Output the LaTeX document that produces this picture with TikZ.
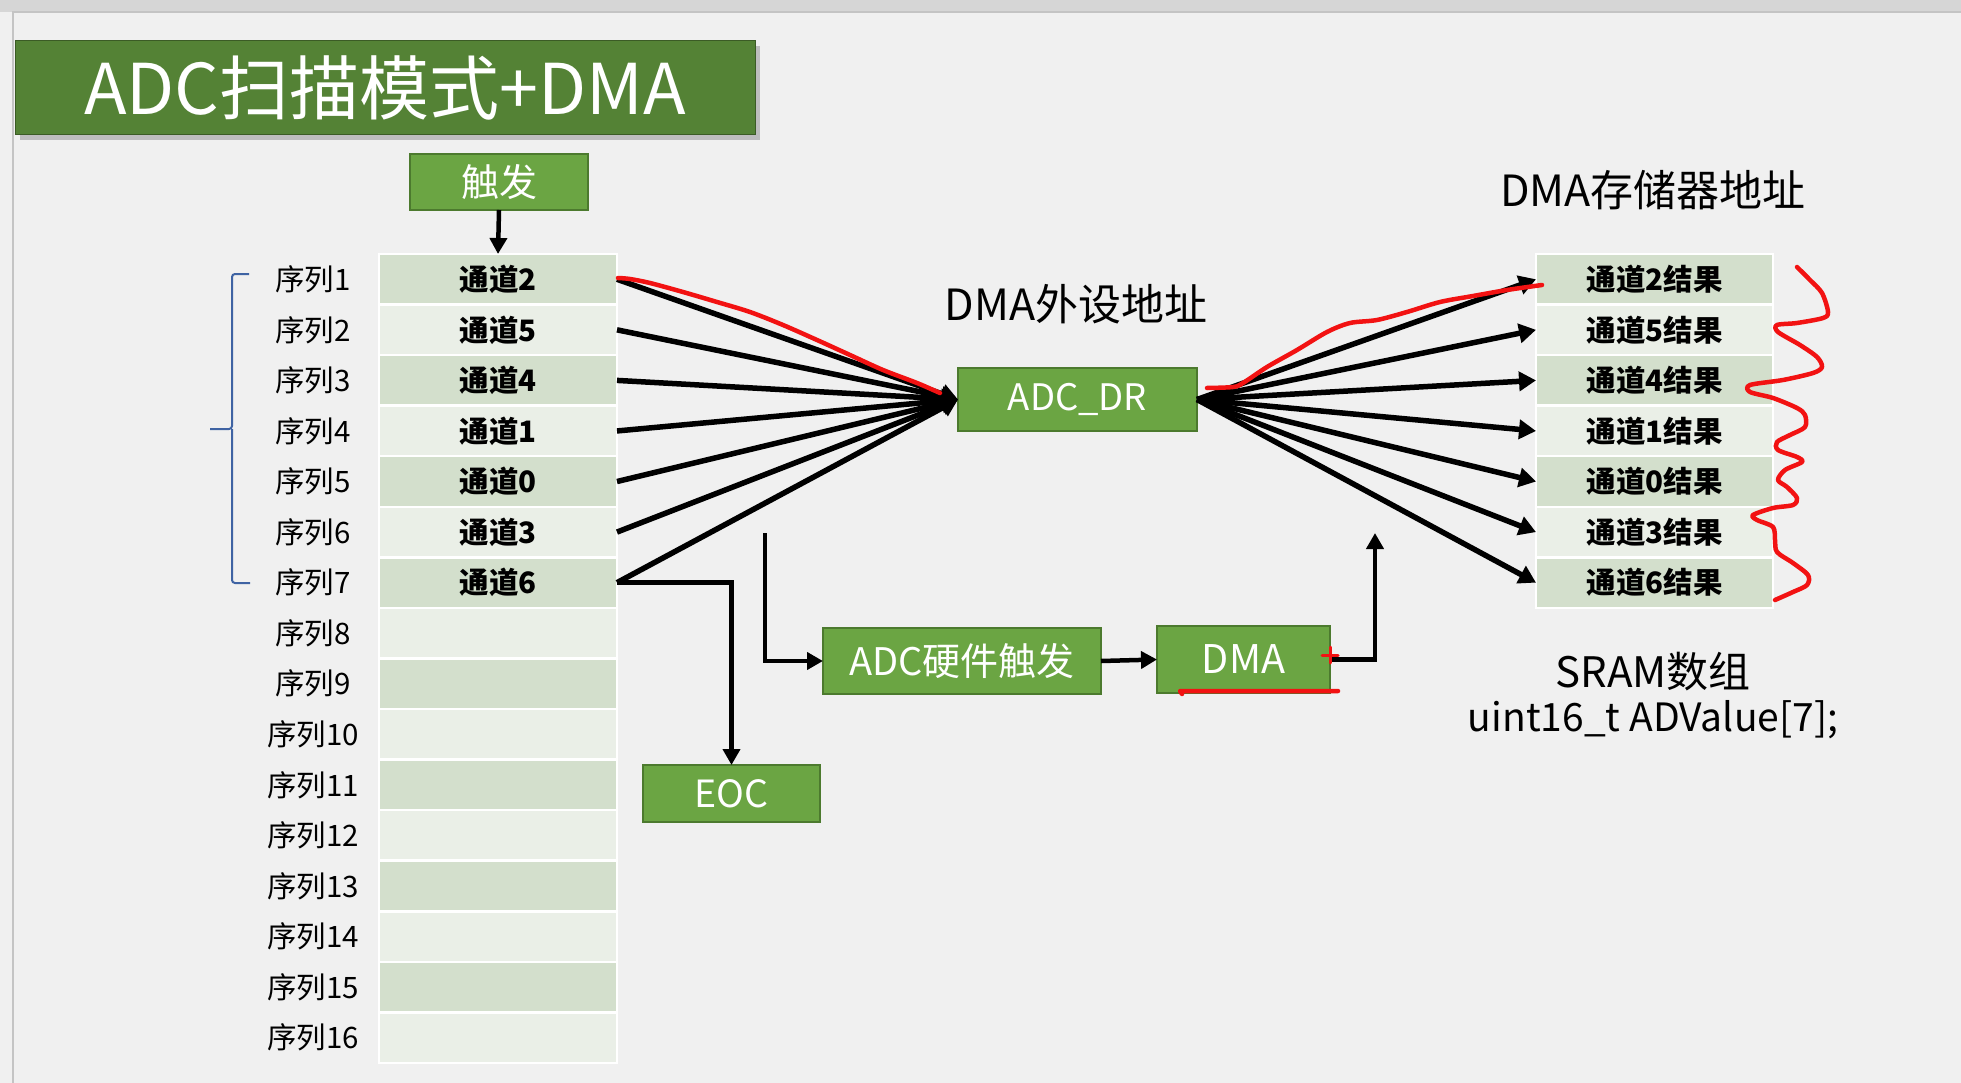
\documentclass[tikz,border=0pt]{standalone}
\usepackage{fontspec}
\setmainfont{Noto Sans CJK SC}
\usetikzlibrary{arrows.meta,shadows}

\definecolor{pagebg}{HTML}{F0F0F0}
\definecolor{topbar}{HTML}{D6D6D6}
\definecolor{edgegray}{HTML}{C4C4C4}
\definecolor{titlegreen}{HTML}{548235}
\definecolor{boxgreen}{HTML}{6BA543}
\definecolor{boxedge}{HTML}{4C7A2E}
\definecolor{rowdark}{HTML}{D3DFCC}
\definecolor{rowlight}{HTML}{EAEFE7}
\definecolor{bracecol}{HTML}{3F63A3}
\definecolor{inkred}{HTML}{F21212}

\tikzset{
  greenbox/.style={draw=boxedge, line width=1.8pt, fill=boxgreen, text=white,
    inner sep=0pt, outer sep=0pt},
  cell/.style={draw=white, line width=2.5pt, inner sep=0pt, outer sep=0pt,
    minimum width=238, minimum height=50.56, text=black,
    font=\bfseries\fontsize{29.5}{32}\selectfont},
  seqlabel/.style={inner sep=0pt, font=\fontsize{29.5}{32}\selectfont},
  heading/.style={inner sep=0pt, font=\fontsize{43}{48}\selectfont},
  fan/.style={line width=5.5pt, -{Triangle[width=19pt,length=17pt]}},
  link/.style={line width=4.5pt, -{Triangle[width=17pt,length=16pt]}},
  ink/.style={inkred, line width=4.5pt, line cap=round, line join=round},
}

\begin{document}
\begin{tikzpicture}[x=1pt,y=-1pt]
\useasboundingbox (0,0) rectangle (1961,1083);

% slide background
\fill[pagebg] (0,0) rectangle (1961,1083);
\fill[topbar] (0,0) rectangle (1961,12);
\draw[edgegray, line width=1.5pt] (13,1083) -- (13,12) -- (1961,12);

% title bar
\node[fill=titlegreen, draw=titlegreen!70!black, line width=1pt,
  minimum width=740, minimum height=94, inner sep=0pt, text=white,
  font=\fontsize{70}{74}\selectfont,
  drop shadow={shadow xshift=5pt, shadow yshift=-5pt, opacity=0.45}]
  (title) at (385,88) {ADC扫描模式+DMA};

% trigger
\node[greenbox, minimum width=178, minimum height=56,
  font=\fontsize{38}{40}\selectfont] (trig) at (499,182) {触发};

% conversion sequence (16 slots)
\foreach \i/\t in {1/通道2,2/通道5,3/通道4,4/通道1,5/通道0,6/通道3,7/通道6}{
  \pgfmathsetmacro\yc{254+(\i-0.5)*50.56}
  \pgfmathtruncatemacro\odd{mod(\i,2)}
  \ifnum\odd=1 \def\rc{rowdark}\else\def\rc{rowlight}\fi
  \node[cell, fill=\rc] (L\i) at (498,\yc) {\t};
  \node[seqlabel] (S\i) at (313,\yc) {序列\i};
}
\foreach \i in {8,...,16}{
  \pgfmathsetmacro\yc{254+(\i-0.5)*50.56}
  \pgfmathtruncatemacro\odd{mod(\i,2)}
  \ifnum\odd=1 \def\rc{rowdark}\else\def\rc{rowlight}\fi
  \node[cell, fill=\rc] (L\i) at (498,\yc) {};
  \node[seqlabel] (S\i) at (313,\yc) {序列\i};
}

% brace over the used sequence slots
\draw[bracecol, line width=2pt, rounded corners=3pt]
  (249,274) -- (232,274) -- (232,429) -- (210,429);
\draw[bracecol, line width=2pt, rounded corners=3pt]
  (232,429) -- (232,583) -- (250,583);

% result array in SRAM
\foreach \i/\t in {1/通道2结果,2/通道5结果,3/通道4结果,4/通道1结果,5/通道0结果,6/通道3结果,7/通道6结果}{
  \pgfmathsetmacro\yc{254+(\i-0.5)*50.56}
  \pgfmathtruncatemacro\odd{mod(\i,2)}
  \ifnum\odd=1 \def\rc{rowdark}\else\def\rc{rowlight}\fi
  \node[cell, minimum width=237, fill=\rc] (R\i) at (1654.5,\yc) {\t};
}

% function blocks
\node[greenbox, minimum width=239, minimum height=63,
  font=\fontsize{36.5}{40}\selectfont] (adcdr) at (1077.5,399.5) {ADC\_DR};
\node[greenbox, minimum width=177, minimum height=57,
  font=\fontsize{37.5}{40}\selectfont] (eoc) at (731.5,793.5) {EOC};
\node[greenbox, minimum width=278, minimum height=66,
  font=\fontsize{38}{40}\selectfont] (hw) at (962,661) {ADC硬件触发};
\node[greenbox, minimum width=173, minimum height=67,
  font=\fontsize{39.5}{42}\selectfont] (dma) at (1243.5,659.5) {DMA};

% captions
\node[heading] (periph) at (1076,304) {DMA外设地址};
\node[heading] (memaddr) at (1653,190) {DMA存储器地址};
\node[heading, font=\fontsize{42}{46}\selectfont] (sram) at (1653,672) {SRAM数组};
\node[heading, font=\fontsize{39}{44}\selectfont] (arr) at (1653,720) {uint16\_t ADValue[7];};

% connectors
\draw[link] (trig.south) -- (L1.north);
\foreach \i in {1,...,7}{
  \draw[fan] (L\i.east) -- (adcdr.west);
  \draw[fan] (adcdr.east) -- (R\i.west);
}
\draw[link] (L7.east) -| (eoc.north);
\coordinate (hwstart) at (765,533);
\draw[link] (hwstart) |- (hw.west);
\draw[link] (hw.east) -- (dma.west);
\coordinate (dmaup) at (1375,533);
\draw[link] (dma.east) -| (dmaup);

% red pen marks
\draw[ink] plot[smooth, tension=0.5] coordinates {
  (618,278) (630,279) (650,283) (683,292) (717,302) (750,312) (783,325)
  (817,340) (850,355) (883,370) (917,383) (940,393)};
\draw[ink] plot[smooth, tension=0.5] coordinates {
  (1207,388) (1233,387) (1243,383) (1267,367) (1297,350) (1327,332)
  (1350,323) (1377,320) (1407,312) (1440,302) (1473,296) (1507,290) (1542,285)};
\draw[ink] plot[smooth, tension=0.5] coordinates {
  (1797,267) (1810,280) (1822,293) (1828,312) (1823,318) (1797,323)
  (1777,325) (1778,332) (1800,345) (1817,357) (1822,367) (1813,373)
  (1783,380) (1750,385) (1750,392) (1773,398) (1797,408) (1805,415)
  (1805,427) (1790,435) (1777,442) (1778,450) (1797,457) (1802,462)
  (1785,470) (1778,480) (1787,487) (1797,498) (1793,505) (1773,508)
  (1753,515) (1757,520) (1773,527) (1775,540) (1777,552) (1793,563)
  (1808,575) (1807,585) (1793,592) (1775,600)};
\draw[ink] (1182,694) -- (1180,691) -- (1338,691);
\draw[ink, line width=3pt] (1322,655) -- (1338,655) (1330,647) -- (1330,663);
\end{tikzpicture}
\end{document}
